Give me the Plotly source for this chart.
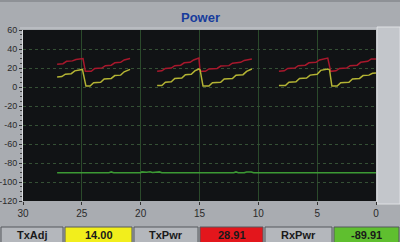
import plotly.graph_objects as go

# ---- data ----
red_x = [27.1, 26.6, 26.3, 25.8, 25.5, 25.0, 24.9, 24.7, 24.2, 23.9, 23.3, 23.0, 22.5, 22.2, 21.7, 21.4, 20.9,
         None,
         18.6, 18.2, 17.9, 17.4, 17.1, 16.6, 16.3, 15.8, 15.5, 15.05, 14.95, 14.5, 14.2, 13.5, 13.2, 12.5, 12.2, 11.5, 11.2, 10.55,
         None,
         8.25, 7.8, 7.5, 6.9, 6.6, 6.0, 5.7, 5.1, 4.8, 4.1, 3.85, 3.4, 3.1, 2.5, 2.2, 1.6, 1.3, 0.7, 0.4, 0.0]
red_y = [24.0, 24.5, 27.0, 27.5, 29.0, 30.5, 30.0, 16.5, 16.5, 19.5, 20.0, 22.5, 23.0, 25.5, 26.0, 28.5, 30.0,
         None,
         16.5, 17.0, 19.5, 20.0, 22.5, 23.0, 25.5, 26.0, 28.5, 30.5, 16.5, 16.5, 19.0, 19.5, 22.0, 22.5, 25.0, 26.0, 28.0, 29.5,
         None,
         16.5, 17.0, 19.5, 20.0, 22.5, 23.0, 25.5, 26.0, 28.5, 30.5, 16.5, 17.0, 19.5, 20.0, 22.5, 23.0, 26.0, 27.0, 29.5, 29.5]

yel_x = [27.1, 26.7, 26.4, 25.9, 25.6, 25.1, 24.95, 24.65, 24.3, 24.0, 23.4, 23.1, 22.5, 22.2, 21.7, 21.4, 20.9,
         None,
         18.6, 18.2, 17.9, 17.4, 17.1, 16.5, 16.2, 15.7, 15.4, 15.05, 14.95, 14.7, 14.2, 13.9, 13.2, 12.9, 12.2, 11.9, 11.3, 11.0, 10.55,
         None,
         8.25, 7.7, 7.4, 6.8, 6.5, 5.9, 5.6, 5.0, 4.7, 4.1, 3.95, 3.75, 3.3, 3.0, 2.3, 2.0, 1.4, 1.1, 0.6, 0.3, 0.0]
yel_y = [10.5, 11.0, 13.5, 14.0, 17.0, 18.5, 18.5, 1.0, 1.0, 4.5, 5.0, 8.5, 9.0, 12.0, 12.5, 16.0, 18.5,
         None,
         1.5, 1.5, 5.0, 5.5, 9.0, 9.5, 13.0, 13.5, 17.0, 19.0, 18.0, 1.0, 1.0, 4.5, 5.0, 8.5, 9.0, 12.5, 13.0, 16.5, 19.0,
         None,
         1.5, 1.5, 5.0, 5.5, 9.0, 9.5, 12.5, 13.5, 17.5, 19.0, 18.0, 1.0, 1.0, 4.5, 5.0, 8.5, 9.0, 12.0, 12.5, 14.5, 14.8]

grn_x = [27.1, 22.7, 22.5, 22.3, 20.0, 19.9, 19.5, 19.2, 19.0, 18.4, 18.2, 12.1, 11.9, 11.7, 11.2, 11.0, 10.6, 10.4, 0.0]
grn_y = [-90.2, -90.2, -89.4, -90.2, -90.2, -89.4, -89.8, -89.2, -90.0, -89.4, -90.2, -90.2, -89.4, -90.2, -90.2, -89.4, -89.4, -90.2, -90.2]

x_ticks = [30, 25, 20, 15, 10, 5, 0]
y_ticks = [60, 40, 20, 0, -20, -40, -60, -80, -100, -120]

cells = [("TxAdj", "#b4b7bc"), ("14.00", "#f2ee1c"), ("TxPwr", "#b4b7bc"),
         ("28.91", "#e3161c"), ("RxPwr", "#b4b7bc"), ("-89.91", "#5fbf2f")]
cell_edges = [0, 64, 133, 199, 264, 333, 400]

# ---- figure ----
W, H = 400, 242
L, R, T, B = 23, 24, 30, 41
pw, ph = W - L - R, H - T - B

def px(x):
    return (x - L) / pw

def py(y):
    return (H - B - y) / ph

fig = go.Figure()
fig.add_trace(go.Scatter(x=grn_x, y=grn_y, mode="lines", line=dict(color="#3c9a34", width=1.6),
                         hoverinfo="skip", connectgaps=False))
fig.add_trace(go.Scatter(x=red_x, y=red_y, mode="lines", line=dict(color="#a8182c", width=1.5),
                         connectgaps=False))
fig.add_trace(go.Scatter(x=yel_x, y=yel_y, mode="lines", line=dict(color="#b4b434", width=1.5),
                         connectgaps=False))

shapes = []
# top darker strip
shapes.append(dict(type="rect", xref="paper", yref="paper", x0=px(0), x1=px(W), y0=py(2), y1=py(0),
                   fillcolor="#8e9196", line_width=0, layer="below"))
# right light panel
shapes.append(dict(type="rect", xref="paper", yref="paper", x0=px(377), x1=px(W), y0=py(204), y1=py(27),
                   fillcolor="#c3c6cb", line=dict(color="#dfe1e4", width=1), layer="below"))
# frame line above plot
shapes.append(dict(type="line", xref="paper", yref="paper", x0=px(20), x1=px(377), y0=py(28), y1=py(28),
                   line=dict(color="#c8cbd0", width=1), layer="below"))
# bottom status cells
for i, (txt, col) in enumerate(cells):
    x0, x1 = cell_edges[i], cell_edges[i + 1]
    shapes.append(dict(type="rect", xref="paper", yref="paper",
                       x0=px(x0 + 1), x1=px(x1 - 1), y0=py(243), y1=py(227),
                       fillcolor=col, line=dict(color="#55585c", width=1)))

annotations = [dict(text="<b>Power</b>", x=px(200), y=py(17), xref="paper", yref="paper",
                    showarrow=False, font=dict(family="Liberation Sans, Arial", size=13, color="#173c9c"),
                    xanchor="center", yanchor="middle")]
for i, (txt, col) in enumerate(cells):
    cx = (cell_edges[i] + cell_edges[i + 1]) / 2
    annotations.append(dict(text="<b>" + txt + "</b>", x=px(cx), y=py(235), xref="paper", yref="paper",
                            showarrow=False, font=dict(family="Liberation Sans, Arial", size=11, color="#1a1a1a"),
                            xanchor="center", yanchor="middle"))

fig.update_layout(
    width=W, height=H,
    margin=dict(l=L, r=R, t=T, b=B, pad=0, autoexpand=False),
    paper_bgcolor="#a9acb1",
    plot_bgcolor="#111315",
    showlegend=False,
    shapes=shapes,
    annotations=annotations,
    xaxis=dict(range=[30, 0], tickvals=x_ticks, ticktext=[str(v) for v in x_ticks], automargin=False,
               showgrid=True, gridcolor="#2b4a2b", gridwidth=1, zeroline=False,
               ticks="outside", ticklen=3, tickcolor="#333", showline=False,
               tickfont=dict(family="Liberation Sans, Arial", size=10, color="#2a2a2a")),
    yaxis=dict(range=[-120, 60], tickvals=y_ticks, ticktext=[str(v) for v in y_ticks], automargin=False,
               showgrid=True, gridcolor="#355035", gridwidth=1, griddash="dot", zeroline=False,
               ticks="outside", ticklen=3, tickcolor="#333", showline=True, linecolor="#d8dadc", linewidth=1,
               minor=dict(dtick=5, ticks="outside", ticklen=2, tickcolor="#444", showgrid=False),
               tickfont=dict(family="Liberation Sans, Arial", size=9, color="#2a2a2a")),
)

fig.write_html("out.html")
